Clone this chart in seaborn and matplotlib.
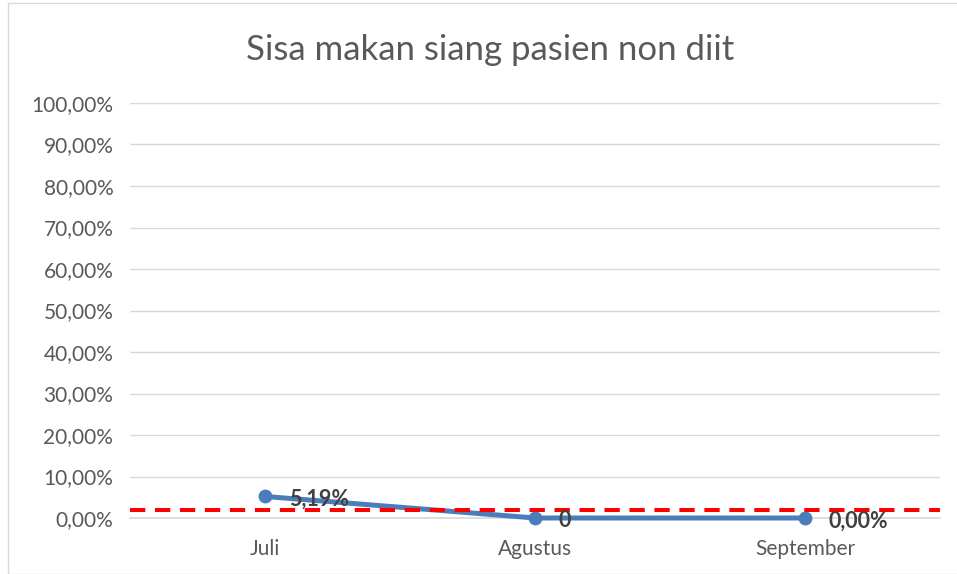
import matplotlib
matplotlib.use("Agg")
import matplotlib.pyplot as plt
import seaborn as sns
import pandas as pd
from matplotlib.ticker import FuncFormatter
from matplotlib.patches import Rectangle

# data
months = ["Juli", "Agustus", "September"]
sisa = [5.19, 0.0, 0.0]
labels = ["5,19%", "0", "0,00%"]
target = 2.0

df = pd.DataFrame({"bulan": months, "sisa": sisa})

sns.set_theme(style="white")
plt.rcParams["font.family"] = ["Lato", "DejaVu Sans"]

fig = plt.figure(figsize=(9.57, 5.74), dpi=100)
ax = fig.add_axes([130 / 957, 1 - 518 / 574, 810 / 957, 415 / 574])

# chart border
fig.patches.append(Rectangle((8 / 957, 0), 1, 1 - 3 / 574, transform=fig.transFigure,
                             fill=False, edgecolor="#d9d9d9", linewidth=1))

sns.lineplot(data=df, x="bulan", y="sisa", ax=ax, color="#4A7EBB", linewidth=3.6,
             marker="o", markersize=10, markeredgewidth=0, sort=False, zorder=3,
             clip_on=False)
ax.axhline(target, color="#FF0000", linestyle=(0, (3.8, 2.4)), linewidth=2.9, zorder=4,
           clip_on=False)

for i, (v, t) in enumerate(zip(sisa, labels)):
    ax.annotate(t, (i, v), xytext=(17, -2), textcoords="offset points",
                ha="left", va="center", fontsize=15.5, fontweight="bold", color="#404040", zorder=5)

ax.set_xlim(-0.5, 2.5)
ax.set_ylim(0, 100)
ax.set_yticks(range(0, 101, 10))
ax.yaxis.set_major_formatter(FuncFormatter(lambda v, p: f"{v:.2f}%".replace(".", ",")))
ax.grid(axis="y", color="#d9d9d9", linewidth=1)
ax.set_axisbelow(True)
for s in ["left", "right", "top"]:
    ax.spines[s].set_visible(False)
ax.spines["bottom"].set_color("#d9d9d9")
ax.tick_params(axis="y", length=0, labelsize=15, colors="#595959", pad=12)
ax.tick_params(axis="x", length=0, labelsize=15, colors="#595959", pad=15)
ax.set_xlabel("")
ax.set_ylabel("")
fig.text(490 / 957, 1 - 50 / 574, "Sisa makan siang pasien non diit", fontsize=25,
         color="#595959", ha="center", va="center")

fig.savefig("out.png", dpi=100)
